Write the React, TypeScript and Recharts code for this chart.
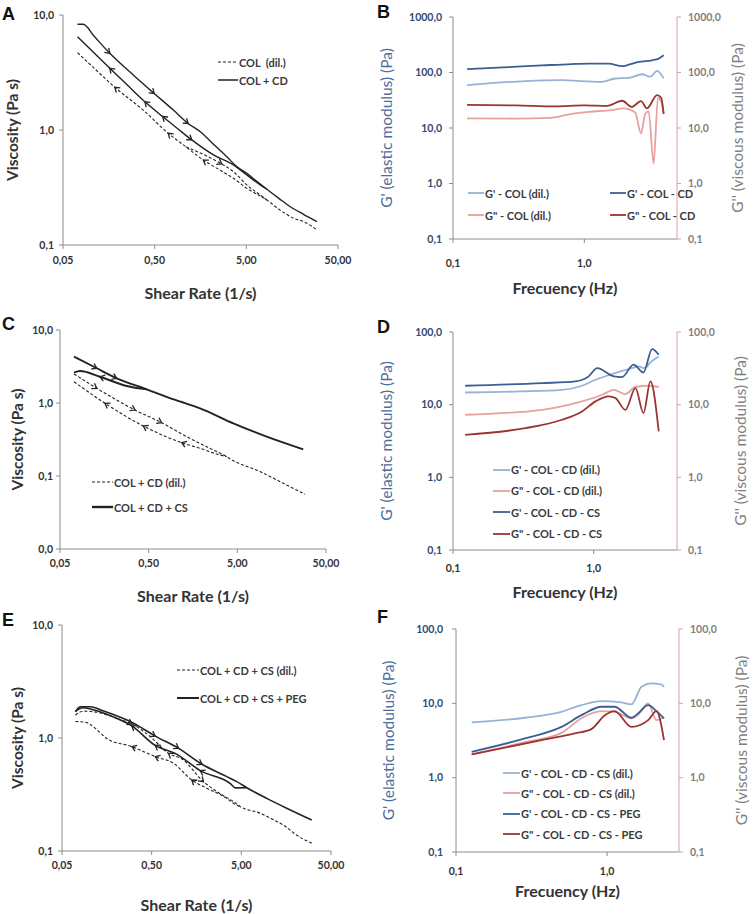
import React from "react";
import { LineChart, Line, XAxis, YAxis, Legend } from "recharts";

type Pt = { x: number; y: number; a?: number };

// ---- A: COL (dil.) vs COL + CD, viscosity ----
const shearTicks = [0.05, 0.5, 5, 50];
const viscTicks = [0.1, 1, 10];
const aSolidUp: Pt[] = [
  { x: 0.072, y: 8.3 }, { x: 0.083, y: 8.3 }, { x: 0.11, y: 6.5 }, { x: 0.162, y: 4.64, a: 1 },
  { x: 0.3, y: 2.95 }, { x: 0.494, y: 2.08, a: 1 }, { x: 0.8, y: 1.49 }, { x: 1.16, y: 1.14, a: 1 },
  { x: 1.56, y: 0.97 }, { x: 2.3, y: 0.725 }, { x: 3.06, y: 0.586 }, { x: 3.93, y: 0.48 },
  { x: 5.06, y: 0.42 }, { x: 6.5, y: 0.358 }, { x: 8.38, y: 0.305 }, { x: 11.5, y: 0.252 },
  { x: 15.1, y: 0.215 }, { x: 21, y: 0.185 }, { x: 29.5, y: 0.16 },
];
const aSolidDown: Pt[] = [
  { x: 0.072, y: 6.48 }, { x: 0.1, y: 5.0 }, { x: 0.162, y: 3.44, a: -1 }, { x: 0.25, y: 2.47 },
  { x: 0.391, y: 1.76, a: -1 }, { x: 0.61, y: 1.31, a: -1 }, { x: 0.9, y: 1.02 }, { x: 1.27, y: 0.82, a: 1 },
  { x: 2.19, y: 0.607 }, { x: 3.62, y: 0.497 }, { x: 5.06, y: 0.406 }, { x: 7.7, y: 0.318 }, { x: 8.38, y: 0.305 },
];
const aDashDown: Pt[] = [
  { x: 0.072, y: 4.7 }, { x: 0.11, y: 3.43 }, { x: 0.184, y: 2.35, a: -1 }, { x: 0.375, y: 1.49 },
  { x: 0.703, y: 0.935, a: -1 }, { x: 1.1, y: 0.713 }, { x: 1.7, y: 0.548, a: -1 }, { x: 2.6, y: 0.446 },
  { x: 3.62, y: 0.38 }, { x: 5.06, y: 0.311 }, { x: 8.38, y: 0.246 }, { x: 11.7, y: 0.201 },
  { x: 16.4, y: 0.171 }, { x: 21, y: 0.16 }, { x: 29.5, y: 0.135 },
];
const aDashUp: Pt[] = [
  { x: 1.1, y: 0.713 }, { x: 1.85, y: 0.594 }, { x: 2.7, y: 0.506, a: 1 }, { x: 3.62, y: 0.434 },
  { x: 5.06, y: 0.333 }, { x: 7.08, y: 0.272 }, { x: 8.38, y: 0.246 },
];

// ---- B: G' / G'' COL (dil.) vs COL - CD ----
const freqTicks = [0.1, 1];
const modTicksB = [0.1, 1, 10, 100, 1000];
const bGpDil: Pt[] = [
  { x: 0.128, y: 59 }, { x: 0.356, y: 70 }, { x: 0.676, y: 73 }, { x: 1.08, y: 69 }, { x: 1.36, y: 68 },
  { x: 1.72, y: 78 }, { x: 2.18, y: 80 }, { x: 2.75, y: 93 }, { x: 3.18, y: 84 }, { x: 3.58, y: 107 }, { x: 4.02, y: 79 },
];
const bGpCd: Pt[] = [
  { x: 0.128, y: 115 }, { x: 0.265, y: 125 }, { x: 0.476, y: 134 }, { x: 0.8, y: 142 }, { x: 1.08, y: 145 },
  { x: 1.53, y: 144 }, { x: 1.94, y: 130 }, { x: 2.18, y: 138 }, { x: 2.6, y: 155 }, { x: 3.28, y: 166 },
  { x: 3.68, y: 178 }, { x: 4.02, y: 205 },
];
const bGppDil: Pt[] = [
  { x: 0.128, y: 14.9 }, { x: 0.3, y: 14.8 }, { x: 0.55, y: 15.2 }, { x: 0.8, y: 18 }, { x: 1.08, y: 19.6 },
  { x: 1.6, y: 21 }, { x: 2.0, y: 22.5 }, { x: 2.44, y: 19 }, { x: 2.7, y: 8.0 }, { x: 2.91, y: 18 },
  { x: 3.09, y: 20 }, { x: 3.37, y: 2.3 }, { x: 3.64, y: 35 }, { x: 3.85, y: 30 }, { x: 4.02, y: 18 },
];
const bGppCd: Pt[] = [
  { x: 0.128, y: 26 }, { x: 0.3, y: 25.5 }, { x: 0.6, y: 24.5 }, { x: 1.0, y: 25.5 }, { x: 1.5, y: 25 },
  { x: 1.94, y: 31 }, { x: 2.3, y: 24 }, { x: 2.7, y: 30.5 }, { x: 3.0, y: 22.6 }, { x: 3.58, y: 39 },
  { x: 3.85, y: 35 }, { x: 4.02, y: 18 },
];

// ---- C: COL + CD (dil.) vs COL + CD + CS ----
const viscTicksC = [0.01, 0.1, 1, 10];
const cSolidUp: Pt[] = [
  { x: 0.0719, y: 4.31 }, { x: 0.13, y: 2.99, a: 1 }, { x: 0.218, y: 2.18, a: 1 }, { x: 0.475, y: 1.54 },
  { x: 1.0, y: 1.1 }, { x: 1.9, y: 0.845 }, { x: 4.51, y: 0.526 }, { x: 10.7, y: 0.346 }, { x: 27.7, y: 0.232 },
];
const cSolidDown: Pt[] = [
  { x: 0.0719, y: 2.61 }, { x: 0.0841, y: 2.74 }, { x: 0.141, y: 2.29, a: -1 }, { x: 0.282, y: 1.71 }, { x: 0.475, y: 1.54 },
];
const cDashUp: Pt[] = [
  { x: 0.0719, y: 2.5 }, { x: 0.13, y: 1.59, a: 1 }, { x: 0.351, y: 0.8, a: 1 }, { x: 0.7, y: 0.538, a: 1 },
  { x: 1.34, y: 0.346 }, { x: 2.68, y: 0.227 }, { x: 3.79, y: 0.184 }, { x: 4.2, y: 0.17 }, { x: 9.0, y: 0.115 },
  { x: 16.5, y: 0.0794 }, { x: 29, y: 0.0561 },
];
const cDashDown: Pt[] = [
  { x: 0.0719, y: 1.96 }, { x: 0.161, y: 0.99, a: -1 }, { x: 0.435, y: 0.484, a: -1 }, { x: 1.18, y: 0.286, a: -1 },
  { x: 1.9, y: 0.239 }, { x: 3.18, y: 0.194 }, { x: 3.79, y: 0.184 },
];

// ---- D: COL - CD (dil.) vs COL - CD - CS ----
const modTicksD = [0.1, 1, 10, 100];
const dGpDil: Pt[] = [
  { x: 0.122, y: 14.7 }, { x: 0.3, y: 15.2 }, { x: 0.6, y: 16 }, { x: 0.826, y: 18.2 }, { x: 1.03, y: 22 },
  { x: 1.28, y: 25.5 }, { x: 1.87, y: 31.9 }, { x: 2.09, y: 33.7 }, { x: 2.27, y: 31.9 }, { x: 2.6, y: 40 }, { x: 2.9, y: 46 },
];
const dGppDil: Pt[] = [
  { x: 0.122, y: 7.26 }, { x: 0.43, y: 8.5 }, { x: 0.741, y: 10.5 }, { x: 1.15, y: 13.7 }, { x: 1.39, y: 16 },
  { x: 1.68, y: 14 }, { x: 1.98, y: 17.5 }, { x: 2.47, y: 18.2 }, { x: 2.9, y: 17.5 },
];
const dGpCs: Pt[] = [
  { x: 0.122, y: 18.2 }, { x: 0.43, y: 19.8 }, { x: 0.741, y: 20.9 }, { x: 0.921, y: 24.5 }, { x: 1.06, y: 31.9 },
  { x: 1.39, y: 24.5 }, { x: 1.59, y: 24 }, { x: 1.92, y: 35.5 }, { x: 2.26, y: 27.8 }, { x: 2.6, y: 58 }, { x: 2.9, y: 48.7 },
];
const dGppCs: Pt[] = [
  { x: 0.122, y: 3.85 }, { x: 0.327, y: 4.75 }, { x: 0.596, y: 6.2 }, { x: 0.826, y: 8.07 }, { x: 1.03, y: 11.1 },
  { x: 1.28, y: 13 }, { x: 1.43, y: 12.3 }, { x: 1.68, y: 8.5 }, { x: 1.98, y: 16.9 }, { x: 2.26, y: 7.66 },
  { x: 2.53, y: 20.9 }, { x: 2.9, y: 4.28 },
];

// ---- E: COL + CD + CS (dil.) vs COL + CD + CS + PEG ----
const eSolidUp: Pt[] = [
  { x: 0.0704, y: 1.71 }, { x: 0.08, y: 1.89 }, { x: 0.1035, y: 1.89 }, { x: 0.146, y: 1.73 }, { x: 0.314, y: 1.35 },
  { x: 0.548, y: 1.04, a: 1 }, { x: 0.998, y: 0.81, a: 1 }, { x: 1.82, y: 0.585, a: 1 }, { x: 3.45, y: 0.455 },
  { x: 4.45, y: 0.411 }, { x: 5.75, y: 0.363 }, { x: 9.6, y: 0.292 }, { x: 16, y: 0.239 }, { x: 30.5, y: 0.188 },
];
const eSolidDown: Pt[] = [
  { x: 0.0704, y: 1.71 }, { x: 0.085, y: 1.85 }, { x: 0.12, y: 1.75 }, { x: 0.2, y: 1.5 }, { x: 0.3, y: 1.28, a: -1 },
  { x: 0.548, y: 0.86, a: -1 }, { x: 0.955, y: 0.717 }, { x: 1.74, y: 0.514, a: -1 }, { x: 3.75, y: 0.397 },
  { x: 4.3, y: 0.362 }, { x: 5.75, y: 0.363 },
];
const eDashUp: Pt[] = [
  { x: 0.0704, y: 1.6 }, { x: 0.0871, y: 1.73 }, { x: 0.123, y: 1.69 }, { x: 0.205, y: 1.49 }, { x: 0.301, y: 1.33, a: 1 },
  { x: 0.482, y: 1.03 }, { x: 0.771, y: 0.731, a: -1 }, { x: 1.09, y: 0.652 }, { x: 1.89, y: 0.411, a: 1 },
  { x: 2.67, y: 0.335 }, { x: 4.09, y: 0.273 }, { x: 4.85, y: 0.247 }, { x: 8.1, y: 0.216 }, { x: 12, y: 0.185 },
  { x: 16, y: 0.162 }, { x: 19, y: 0.145 }, { x: 30.5, y: 0.117 },
];
const eDashDown: Pt[] = [
  { x: 0.0704, y: 1.4 }, { x: 0.091, y: 1.38 }, { x: 0.123, y: 1.18 }, { x: 0.158, y: 0.99 }, { x: 0.301, y: 0.838, a: -1 },
  { x: 0.548, y: 0.684, a: -1 }, { x: 0.877, y: 0.597 }, { x: 1.4, y: 0.425, a: -1 }, { x: 2.06, y: 0.359 },
  { x: 3.45, y: 0.292 }, { x: 4.09, y: 0.264 }, { x: 4.85, y: 0.247 },
];

// ---- F: COL - CD - CS (dil.) vs COL - CD - CS - PEG ----
const fGpDil: Pt[] = [
  { x: 0.127, y: 5.53 }, { x: 0.286, y: 6.4 }, { x: 0.499, y: 7.7 }, { x: 0.676, y: 9.46 }, { x: 0.918, y: 10.7 },
  { x: 1.24, y: 10.3 }, { x: 1.45, y: 9.7 }, { x: 1.69, y: 16.7 }, { x: 1.96, y: 18.5 }, { x: 2.29, y: 17.8 }, { x: 2.38, y: 16.7 },
];
const fGppDil: Pt[] = [
  { x: 0.127, y: 2.05 }, { x: 0.286, y: 3.0 }, { x: 0.499, y: 4.0 }, { x: 0.676, y: 6.3 }, { x: 0.918, y: 7.86 },
  { x: 1.12, y: 7.7 }, { x: 1.45, y: 6.3 }, { x: 1.6, y: 7.0 }, { x: 1.87, y: 9.97 }, { x: 2.12, y: 5.95 }, { x: 2.38, y: 6.5 },
];
const fGpPeg: Pt[] = [
  { x: 0.127, y: 2.23 }, { x: 0.286, y: 3.37 }, { x: 0.499, y: 4.83 }, { x: 0.676, y: 6.93 }, { x: 0.918, y: 8.99 },
  { x: 1.12, y: 9.0 }, { x: 1.45, y: 6.4 }, { x: 1.6, y: 7.3 }, { x: 1.87, y: 9.46 }, { x: 2.12, y: 7.86 }, { x: 2.38, y: 6.27 },
];
const fGppPeg: Pt[] = [
  { x: 0.127, y: 2.05 }, { x: 0.368, y: 3.2 }, { x: 0.611, y: 3.94 }, { x: 0.787, y: 4.5 }, { x: 0.966, y: 6.93 },
  { x: 1.12, y: 7.86 }, { x: 1.45, y: 4.83 }, { x: 1.87, y: 5.95 }, { x: 2.12, y: 7.86 }, { x: 2.38, y: 3.2 },
];

const BLACK = "#222";
const LBLUE = "#95b3d7";
const DBLUE = "#3c5f91";
const LRED = "#e6a09e";
const DRED = "#9b3532";
const AXIS = "#8c8c8c";
const TXT = "#333";

const fmt1 = (v: number) => v.toFixed(1).replace(".", ",");
const fmt2 = (v: number) => v.toFixed(2).replace(".", ",");

type Series = { name: string; data: Pt[]; color: string; width: number; dash?: string; right?: boolean };

// arrowhead drawn on the points flagged with a (+1 forward, -1 backward)
const arrowDot = (color: string) => (props: any) => {
  const { cx, cy, index, payload, points } = props;
  if (!payload || !payload.a || cx == null || cy == null) return <g key={`n-${index}`} />;
  let ang = Math.atan2(1, 1.3);
  if (points && points.length > 1) {
    const p0 = points[Math.max(0, index - 1)];
    const p1 = points[Math.min(points.length - 1, index + 1)];
    ang = Math.atan2(p1.y - p0.y, p1.x - p0.x);
  }
  if (payload.a < 0) ang += Math.PI;
  const L = 5.5, w = 0.6;
  const lx = cx - L * Math.cos(ang - w), ly = cy - L * Math.sin(ang - w);
  const rx = cx - L * Math.cos(ang + w), ry = cy - L * Math.sin(ang + w);
  return (
    <path key={`a-${index}`} d={`M${lx},${ly}L${cx},${cy}L${rx},${ry}`} fill="none" stroke={color} strokeWidth={1.3} />
  );
};

type PanelCfg = {
  letter: string; left: number; top: number; width: number; height: number;
  mTop: number; mRight: number; yW: number; yWR?: number; xH: number;
  xDomain: number[]; xTicks: number[]; xFmt: (v: number) => string; xTickMargin: number;
  yDomain: number[]; yTicks: number[]; yTickMargin: number; yTickMarginR?: number;
  xTitle: string; xTitleOffset: number; yTitle: string; yTitleOffset: number;
  yTitleR?: string; yTitleROffset?: number;
  series: Series[]; arrows: boolean;
  lg: { left: number; top: number; rowH: number; cols: number; colW: number; lineW: number; items: Series[] };
  letterTop: number;
};

const LegendBox = ({ lg }: { lg: PanelCfg["lg"] }) => (
  <div style={{ display: "grid", gridTemplateColumns: `repeat(${lg.cols}, ${lg.colW}px)` }}>
    {lg.items.map((it) => (
      <div key={it.name} style={{ display: "flex", alignItems: "center", height: lg.rowH }}>
        <svg width={lg.lineW} height={6} style={{ display: "block" }}>
          <line x1={0} y1={3} x2={lg.lineW} y2={3} stroke={it.color} strokeWidth={it.width} strokeDasharray={it.dash} />
        </svg>
        <span style={{ marginLeft: 1, fontSize: 11, fontWeight: 700, color: "#3a3a3a", whiteSpace: "pre" }}>{it.name}</span>
      </div>
    ))}
  </div>
);

const Panel = ({ p }: { p: PanelCfg }) => {
  const hasRight = p.series.some((s) => s.right);
  const tickStyle = { fontSize: 10.5, fontWeight: 700, fill: hasRight ? "#2f4a74" : TXT };
  return (
    <div style={{ position: "absolute", left: p.left, top: p.top, width: p.width, height: p.height }}>
      <LineChart width={p.width} height={p.height} margin={{ top: p.mTop, right: p.mRight, bottom: 0, left: 0 }}>
        <XAxis
          type="number" dataKey="x" scale="log" domain={p.xDomain} ticks={p.xTicks} tickFormatter={p.xFmt}
          allowDataOverflow interval={0} height={p.xH} tickSize={4} tickMargin={p.xTickMargin}
          axisLine={{ stroke: AXIS }} tickLine={{ stroke: AXIS }}
          tick={{ fontSize: 10.5, fontWeight: 700, fill: TXT }}
          label={{ value: p.xTitle, position: "insideBottom", offset: p.xTitleOffset, style: { fontSize: 16, fontWeight: 700, fill: TXT } }}
        />
        <YAxis
          yAxisId="left" type="number" scale="log" domain={p.yDomain} ticks={p.yTicks} tickFormatter={fmt1}
          allowDataOverflow interval={0} width={p.yW} tickSize={4} tickMargin={p.yTickMargin}
          axisLine={{ stroke: AXIS }} tickLine={{ stroke: AXIS }} tick={tickStyle}
          label={{
            value: p.yTitle, angle: -90, position: "insideLeft", offset: p.yTitleOffset,
            style: { textAnchor: "middle", fontSize: 15.5, fontWeight: hasRight ? 400 : 700, fill: hasRight ? "#4a6d9c" : TXT },
          }}
        />
        {hasRight && (
          <YAxis
            yAxisId="right" orientation="right" type="number" scale="log" domain={p.yDomain} ticks={p.yTicks}
            tickFormatter={fmt1} allowDataOverflow interval={0} width={p.yWR} tickSize={4} tickMargin={p.yTickMarginR}
            axisLine={{ stroke: "#d9a0a0" }} tickLine={{ stroke: "#d9a0a0" }}
            tick={{ fontSize: 10.5, fontWeight: 700, fill: "#808080" }}
            label={{
              value: p.yTitleR, angle: -90, position: "insideRight", offset: p.yTitleROffset,
              style: { textAnchor: "middle", fontSize: 15.5, fill: "#7f7f7f" },
            }}
          />
        )}
        {p.series.map((s) => (
          <Line
            key={s.name + s.data.length + s.data[0].y}
            yAxisId={s.right ? "right" : "left"}
            data={s.data} dataKey="y" name={s.name} type="monotone"
            stroke={s.color} strokeWidth={s.width} strokeDasharray={s.dash}
            dot={p.arrows ? arrowDot(s.color) : false} activeDot={false} isAnimationActive={false}
          />
        ))}
        <Legend
          layout="horizontal" verticalAlign="middle" align="center"
          wrapperStyle={{ left: p.lg.left, top: p.lg.top, width: "auto", height: "auto" }}
          content={() => <LegendBox lg={p.lg} />}
        />
      </LineChart>
      <div
        style={{
          position: "absolute", left: 2, top: p.letterTop, fontFamily: "'Liberation Sans', Arial, sans-serif",
          fontWeight: 700, fontSize: 18, lineHeight: "18px", color: "#111",
        }}
      >
        {p.letter}
      </div>
    </div>
  );
};

const sDash = (name: string, data: Pt[]): Series => ({ name, data, color: BLACK, width: 1.1, dash: "3 2" });
const sSolid = (name: string, data: Pt[], w = 1.4): Series => ({ name, data, color: BLACK, width: w });

const panels: PanelCfg[] = [
  {
    letter: "A", left: 0, top: 0, width: 375, height: 305, mTop: 15, mRight: 37, yW: 63, xH: 60,
    xDomain: [0.05, 50], xTicks: shearTicks, xFmt: fmt2, xTickMargin: 8,
    yDomain: [0.1, 10], yTicks: viscTicks, yTickMargin: 5,
    xTitle: "Shear Rate (1/s)", xTitleOffset: 6, yTitle: "Viscosity (Pa s)", yTitleOffset: 12,
    arrows: true,
    series: [
      sDash("COL  (dil.)", aDashDown), sDash("COL  (dil.) up", aDashUp),
      sSolid("COL + CD", aSolidUp), sSolid("COL + CD down", aSolidDown),
    ],
    lg: { left: 218, top: 53, rowH: 18, cols: 1, colW: 120, lineW: 20, items: [sDash("COL  (dil.)", aDashDown), sSolid("COL + CD", aSolidUp, 1.5)] },
    letterTop: 4.5,
  },
  {
    letter: "B", left: 375, top: 0, width: 380, height: 300, mTop: 17, mRight: 0, yW: 78, yWR: 78, xH: 61,
    xDomain: [0.1, 5.08], xTicks: freqTicks, xFmt: fmt1, xTickMargin: 17,
    yDomain: [0.1, 1000], yTicks: modTicksB, yTickMargin: 7, yTickMarginR: 7,
    xTitle: "Frecuency (Hz)", xTitleOffset: 6, yTitle: "G' (elastic modulus) (Pa)", yTitleOffset: 11,
    yTitleR: "G'' (viscous modulus) (Pa)", yTitleROffset: 17.5, arrows: false,
    series: [
      { name: "G' - COL (dil.)", data: bGpDil, color: LBLUE, width: 1.8 },
      { name: "G' - COL - CD", data: bGpCd, color: DBLUE, width: 1.8 },
      { name: 'G" - COL (dil.)', data: bGppDil, color: LRED, width: 1.8, right: true },
      { name: 'G" - COL - CD', data: bGppCd, color: DRED, width: 1.8, right: true },
    ],
    lg: { left: 93, top: 182, rowH: 22, cols: 2, colW: 142, lineW: 16, items: [] },
    letterTop: 3,
  },
  {
    letter: "C", left: 0, top: 300, width: 375, height: 310, mTop: 30, mRight: 49, yW: 60, xH: 61,
    xDomain: [0.05, 50], xTicks: shearTicks, xFmt: fmt2, xTickMargin: 7,
    yDomain: [0.01, 10], yTicks: viscTicksC, yTickMargin: 3,
    xTitle: "Shear Rate (1/s)", xTitleOffset: 8, yTitle: "Viscosity (Pa s)", yTitleOffset: 17,
    arrows: true,
    series: [
      sDash("COL + CD (dil.)", cDashUp), sDash("COL + CD (dil.) down", cDashDown),
      sSolid("COL + CD + CS", cSolidUp, 1.9), sSolid("COL + CD + CS down", cSolidDown, 1.9),
    ],
    lg: { left: 92, top: 169.5, rowH: 25, cols: 1, colW: 140, lineW: 21, items: [sDash("COL + CD (dil.)", cDashUp), sSolid("COL + CD + CS", cSolidUp, 2.4)] },
    letterTop: 14.7,
  },
  {
    letter: "D", left: 375, top: 300, width: 380, height: 305, mTop: 32, mRight: 0, yW: 78, yWR: 78, xH: 55,
    xDomain: [0.1, 3.91], xTicks: freqTicks, xFmt: fmt1, xTickMargin: 11,
    yDomain: [0.1, 100], yTicks: modTicksD, yTickMargin: 7, yTickMarginR: 7,
    xTitle: "Frecuency (Hz)", xTitleOffset: 7, yTitle: "G' (elastic modulus) (Pa)", yTitleOffset: 11,
    yTitleR: "G'' (viscous modulus) (Pa)", yTitleROffset: 15, arrows: false,
    series: [
      { name: "G' - COL - CD (dil.)", data: dGpDil, color: LBLUE, width: 1.8 },
      { name: 'G" - COL - CD (dil.)', data: dGppDil, color: LRED, width: 1.8, right: true },
      { name: "G' - COL - CD - CS", data: dGpCs, color: DBLUE, width: 1.8 },
      { name: 'G" - COL - CD - CS', data: dGppCs, color: DRED, width: 1.8, right: true },
    ],
    lg: { left: 118, top: 159, rowH: 21.3, cols: 1, colW: 160, lineW: 17, items: [] },
    letterTop: 17.7,
  },
  {
    letter: "E", left: 0, top: 605, width: 375, height: 309, mTop: 20, mRight: 44, yW: 62, xH: 63,
    xDomain: [0.05, 50], xTicks: shearTicks, xFmt: fmt2, xTickMargin: 7,
    yDomain: [0.1, 10], yTicks: viscTicks, yTickMargin: 5,
    xTitle: "Shear Rate (1/s)", xTitleOffset: 3.5, yTitle: "Viscosity (Pa s)", yTitleOffset: 17,
    arrows: true,
    series: [
      sDash("COL + CD + CS (dil.)", eDashUp), sDash("COL + CD + CS (dil.) down", eDashDown),
      sSolid("COL + CD + CS + PEG", eSolidUp, 1.6), sSolid("COL + CD + CS + PEG down", eSolidDown, 1.6),
    ],
    lg: { left: 177, top: 51, rowH: 28, cols: 1, colW: 160, lineW: 22, items: [sDash("COL + CD + CS (dil.)", eDashUp), sSolid("COL + CD + CS + PEG", eSolidUp, 2)] },
    letterTop: 6,
  },
  {
    letter: "F", left: 375, top: 605, width: 380, height: 309, mTop: 24, mRight: 0, yW: 81, yWR: 76, xH: 62,
    xDomain: [0.1, 2.99], xTicks: freqTicks, xFmt: fmt1, xTickMargin: 12,
    yDomain: [0.1, 100], yTicks: modTicksD, yTickMargin: 9, yTickMarginR: 7,
    xTitle: "Frecuency (Hz)", xTitleOffset: 17, yTitle: "G' (elastic modulus) (Pa)", yTitleOffset: 13,
    yTitleR: "G'' (viscous modulus) (Pa)", yTitleROffset: 14, arrows: false,
    series: [
      { name: "G' - COL - CD - CS (dil.)", data: fGpDil, color: LBLUE, width: 1.8 },
      { name: 'G" - COL - CD - CS (dil.)', data: fGppDil, color: LRED, width: 1.8, right: true },
      { name: "G' - COL - CD - CS - PEG", data: fGpPeg, color: DBLUE, width: 1.8 },
      { name: 'G" - COL - CD - CS - PEG', data: fGppPeg, color: DRED, width: 1.8, right: true },
    ],
    lg: { left: 128, top: 158, rowH: 20.3, cols: 1, colW: 190, lineW: 17, items: [] },
    letterTop: 3,
  },
];

// colored panels: legend items are the series themselves
panels.forEach((p) => {
  if (p.lg.items.length === 0) p.lg.items = p.series;
});

export default function App() {
  return (
    <div
      style={{
        position: "absolute", left: 0, top: 0, width: 755, height: 914, background: "#fff",
        fontFamily: "Lato, 'Open Sans', sans-serif", overflow: "hidden",
      }}
    >
      {panels.map((p) => (
        <Panel key={p.letter} p={p} />
      ))}
    </div>
  );
}
